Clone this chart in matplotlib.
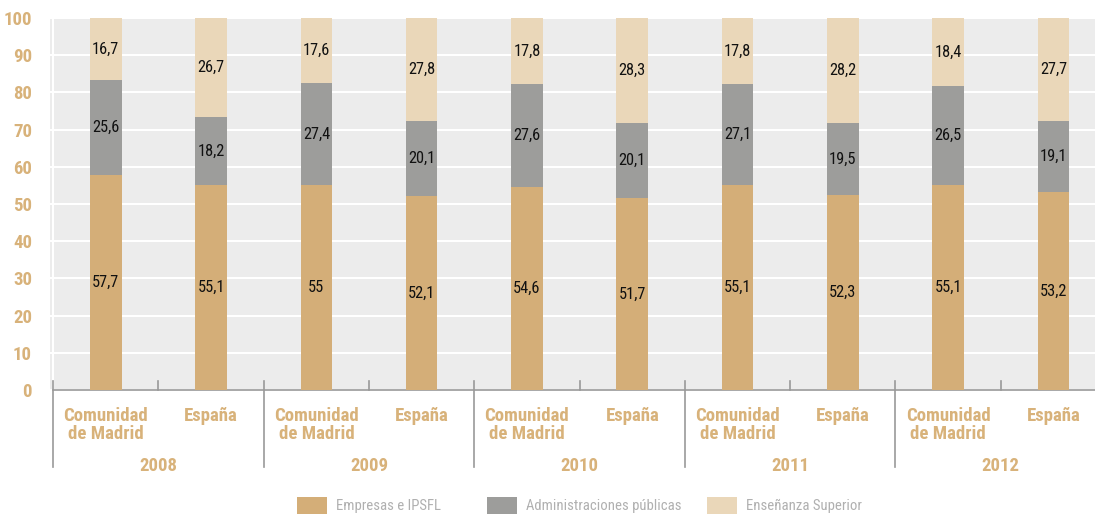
import matplotlib
matplotlib.use("Agg")
import matplotlib.pyplot as plt
from matplotlib.patches import Patch
import numpy as np

years = ["2008", "2009", "2010", "2011", "2012"]
regions = ["Comunidad\nde Madrid", "España"]

# valores por barra: CM, España, CM, España, ...
empresas = [57.7, 55.1, 55.0, 52.1, 54.6, 51.7, 55.1, 52.3, 55.1, 53.2]
administraciones = [25.6, 18.2, 27.4, 20.1, 27.6, 20.1, 27.1, 19.5, 26.5, 19.1]
ensenanza = [16.7, 26.7, 17.6, 27.8, 17.8, 28.3, 17.8, 28.2, 18.4, 27.7]
series_names = ["Empresas e IPSFL", "Administraciones públicas", "Enseñanza Superior"]

COLORS = ["#d4ae78", "#9d9d9b", "#ead7b9"]
GOLD = "#d8b27a"

plt.rcParams['font.family'] = ['Roboto Condensed', 'Liberation Sans Narrow',
                               'Liberation Sans', 'DejaVu Sans']

fig = plt.figure(figsize=(10.95, 5.15), dpi=100)
ax = fig.add_axes([50 / 1095, 1 - 390 / 515, 1 - 50 / 1095, 372 / 515])
ax.set_facecolor("#ececec")

x = np.arange(len(empresas))
width = 0.30
bottom = np.zeros(len(x))
for vals, col in zip([empresas, administraciones, ensenanza], COLORS):
    vals = np.array(vals)
    ax.bar(x, vals, width, bottom=bottom, color=col, zorder=3)
    for xi, b, v in zip(x, bottom, vals):
        txt = f"{v:g}".replace(".", ",")
        ax.text(xi, b + v / 2, txt, ha="center", va="center", fontsize=11.8,
                color="#111111", zorder=4)
    bottom += vals

ax.set_xlim(-0.53, 9.395)
ax.set_ylim(0, 100)
ax.set_yticks(range(0, 101, 10))
ax.yaxis.grid(True, color="white", lw=1.5, zorder=1)
ax.set_axisbelow(True)
ax.axvline(-0.5, color="white", lw=1.5, zorder=2)
ax.tick_params(axis="y", length=0, pad=13, labelcolor=GOLD, labelsize=13.5)
for lab in ax.get_yticklabels():
    lab.set_fontweight("bold")
ax.set_xticks([])
for s in ["top", "right", "left"]:
    ax.spines[s].set_visible(False)
ax.spines["bottom"].set_color("#999999")
ax.spines["bottom"].set_linewidth(1.2)
ax.spines["bottom"].set_bounds(-0.5, 9.395)

tr = ax.get_xaxis_transform()
for t in np.arange(-0.5, 9.4, 1.0):
    major = int(t + 0.5) % 2 == 0
    y0 = -0.207 if major else 0
    ax.plot([t, t], [y0, 0.024], color="#999999", lw=1.2, transform=tr,
            clip_on=False, zorder=5)

for i, xi in enumerate(x):
    ax.text(xi, -0.046, regions[i % 2], transform=tr, ha="center", va="top",
            multialignment="center", fontsize=13.5, fontweight="bold",
            color=GOLD, linespacing=1.0)
for j, yr in enumerate(years):
    ax.text(2 * j + 0.5, -0.203, yr, transform=tr, ha="center", va="center",
            fontsize=13.5, fontweight="bold", color=GOLD)

# leyenda: una entrada por bloque, como en el original
legend_left_px = [297, 487, 707]
for name, col, px in zip(series_names, COLORS, legend_left_px):
    fig.legend([Patch(facecolor=col, edgecolor="none")], [name], loc="center left",
               bbox_to_anchor=(px / 1095, 1 - 505.5 / 515), frameon=False,
               fontsize=10.6, labelcolor="#b0b0b0", borderpad=0, borderaxespad=0,
               handlelength=2.05, handleheight=1.3, handletextpad=0.6)

fig.savefig("out.png", dpi=100)
